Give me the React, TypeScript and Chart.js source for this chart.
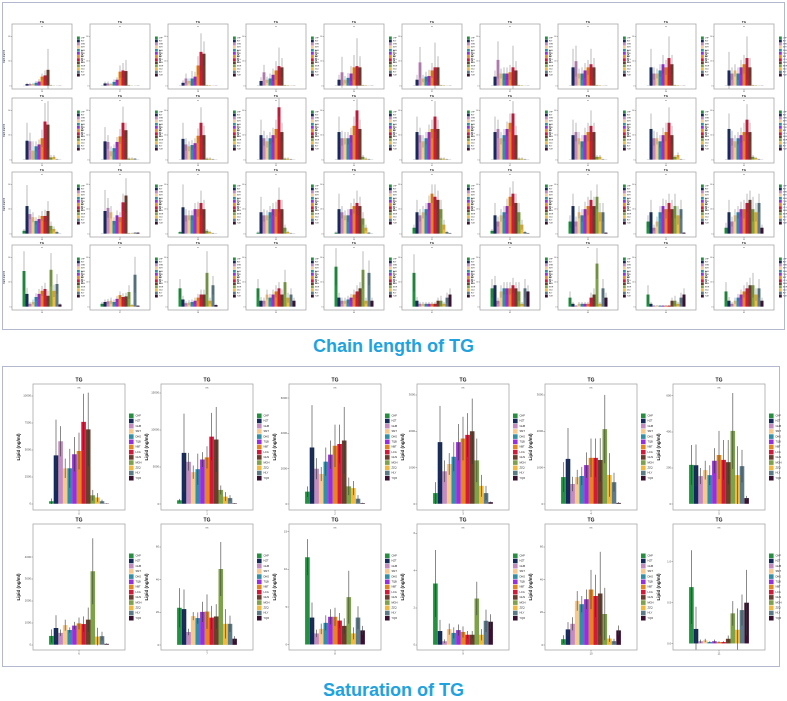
import React, { useEffect, useRef } from "react";
import { Chart, registerables } from "chart.js";
Chart.register(...registerables);

const FONT = "'Liberation Sans', Arial, sans-serif";

const GROUPS = ["CHP", "HZT", "GHB", "SMT", "DHG", "TQB", "NBT", "LCG", "GHS", "MGH", "ZZQ", "HLY", "YQR"];
const COLORS = ["#23903f", "#142a5e", "#c58bc0", "#f8c98a", "#2f8fa6", "#9a2de0", "#e8861e", "#d3193a", "#6a3d2c", "#7ea24a", "#f2b93b", "#5c7b89", "#3b0f32"];

// ---------- Chain length of TG (4 rows x 10 columns) ----------
const CHAIN_LABELS = Array.from({ length: 40 }, (_, i) => String(26 + i));
const CHAIN_TICKS = [0, 40, 80];

const CHAIN_VALUES: number[][] = [
  [0, 3, 3, 3, 5, 7, 15, 17, 26, 1, 0.5, 0.3, 0.2],
  [0.5, 4, 4, 3, 6.5, 10, 23, 25, 24, 1, 0.5, 0.5, 0.2],
  [0.5, 5, 12, 8, 12, 15, 33, 55, 52, 1, 1, 0.5, 0.2],
  [0.5, 8, 22, 10, 12, 18, 25, 32, 30, 1, 1, 0.5, 0.2],
  [0.5, 10, 22, 10, 13, 20, 30, 32, 30, 1, 1, 0.5, 0.2],
  [0.5, 10, 38, 12, 15, 16, 25, 30, 30, 1, 1, 0.5, 0.2],
  [0.5, 15, 42, 20, 20, 20, 22, 30, 25, 1, 1, 0.5, 0.2],
  [0.5, 30, 40, 20, 20, 25, 30, 35, 30, 1, 1, 0.5, 0.2],
  [0.5, 30, 20, 20, 25, 35, 30, 45, 35, 1, 1, 0.5, 0.2],
  [0.5, 25, 20, 25, 20, 30, 35, 45, 30, 1, 1, 0.5, 0.2],

  [0.5, 31, 30, 15, 22, 25, 35, 62, 57, 4, 5, 1, 0.3],
  [0.5, 30, 29, 14, 19, 29, 38, 60, 48, 2, 2, 2, 0.3],
  [0.5, 34, 25, 22, 24, 27, 39, 60, 40, 2, 2, 1, 0.3],
  [0.5, 40, 35, 30, 35, 40, 50, 85, 45, 2, 2, 1, 0.3],
  [0.5, 45, 35, 35, 35, 40, 55, 80, 50, 5, 2, 1, 0.3],
  [0.5, 45, 40, 30, 35, 45, 50, 70, 50, 2, 2, 1, 0.3],
  [0.5, 45, 50, 35, 40, 50, 60, 75, 40, 2, 2, 1, 0.3],
  [0.5, 40, 45, 35, 30, 40, 45, 55, 45, 5, 5, 1, 0.3],
  [0.5, 50, 35, 35, 30, 40, 45, 60, 40, 5, 8, 1, 0.3],
  [0.5, 50, 35, 30, 35, 40, 45, 65, 45, 5, 3, 1, 0.3],

  [5, 45, 32, 27, 21, 24, 29, 29, 37, 13, 8, 3, 0.5],
  [0.5, 37, 42, 35, 21, 30, 27, 51, 62, 1, 1, 2, 2],
  [3, 43, 30, 30, 30, 40, 40, 50, 40, 5, 3, 1, 0.5],
  [2, 35, 30, 30, 35, 40, 40, 55, 40, 10, 3, 1, 0.5],
  [2, 40, 35, 30, 30, 40, 45, 50, 45, 25, 10, 2, 0.5],
  [10, 35, 30, 35, 40, 50, 65, 60, 55, 40, 15, 3, 1],
  [5, 30, 20, 30, 35, 45, 60, 65, 50, 35, 15, 3, 1],
  [20, 45, 20, 35, 30, 40, 45, 55, 45, 60, 35, 35, 2],
  [20, 35, 10, 20, 35, 45, 40, 50, 40, 45, 30, 40, 2],
  [10, 35, 20, 30, 35, 40, 40, 50, 55, 40, 35, 50, 10],

  [58, 21, 5, 8, 16, 21, 26, 29, 18, 60, 26, 37, 4],
  [5, 8, 9, 10, 8, 13, 19, 16, 17, 24, 3, 52, 2],
  [30, 12, 6, 7, 8, 10, 15, 20, 20, 55, 10, 35, 3],
  [30, 10, 10, 20, 15, 20, 25, 30, 20, 40, 15, 20, 10],
  [65, 15, 10, 10, 12, 15, 20, 25, 30, 60, 10, 55, 10],
  [55, 10, 5, 5, 5, 5, 5, 5, 10, 10, 5, 15, 20],
  [30, 35, 10, 25, 30, 30, 30, 35, 30, 25, 5, 30, 25],
  [15, 5, 2, 5, 5, 5, 5, 15, 20, 70, 5, 30, 15],
  [20, 5, 2, 2, 2, 2, 2, 2, 10, 10, 5, 15, 20],
  [25, 10, 5, 10, 15, 20, 25, 30, 35, 35, 20, 30, 10],
];

const CHAIN_ERRORS: number[][] = [
  [0.5, 2, 2, 2, 3, 4, 5, 8, 34, 1, 0.5, 0.3, 0.2],
  [0.5, 3, 3, 2, 4, 4, 10, 12, 18, 1, 0.5, 0.3, 0.2],
  [0.5, 4, 8, 4, 12, 8, 15, 30, 20, 1, 0.5, 0.3, 0.2],
  [0.5, 6, 12, 5, 8, 10, 15, 30, 15, 1, 0.5, 0.3, 0.2],
  [0.5, 8, 25, 6, 8, 12, 20, 45, 18, 1, 0.5, 0.3, 0.2],
  [0.5, 8, 25, 6, 8, 10, 12, 40, 18, 1, 0.5, 0.3, 0.2],
  [0.5, 10, 30, 8, 10, 10, 12, 35, 15, 1, 0.5, 0.3, 0.2],
  [0.5, 30, 25, 8, 10, 12, 12, 25, 15, 1, 0.5, 0.3, 0.2],
  [0.5, 30, 10, 8, 10, 15, 12, 35, 15, 1, 0.5, 0.3, 0.2],
  [0.5, 30, 10, 10, 10, 12, 15, 35, 15, 1, 0.5, 0.3, 0.2],

  [0.5, 29, 14, 15, 8, 8, 14, 30, 38, 4, 3, 1, 0.3],
  [0.5, 23, 11, 8, 6, 8, 12, 26, 12, 2, 2, 1, 0.3],
  [0.5, 26, 10, 8, 8, 8, 12, 25, 15, 2, 2, 1, 0.3],
  [0.5, 25, 12, 10, 10, 12, 15, 15, 15, 2, 2, 1, 0.3],
  [0.5, 25, 12, 10, 10, 12, 15, 18, 15, 3, 2, 1, 0.3],
  [0.5, 25, 12, 10, 10, 12, 15, 25, 15, 2, 2, 1, 0.3],
  [0.5, 25, 15, 10, 10, 12, 15, 20, 15, 2, 2, 1, 0.3],
  [0.5, 25, 15, 10, 10, 12, 15, 25, 15, 3, 3, 1, 0.3],
  [0.5, 25, 12, 10, 10, 12, 15, 25, 15, 3, 4, 1, 0.3],
  [0.5, 25, 12, 10, 10, 12, 15, 25, 15, 3, 2, 1, 0.3],

  [3, 34, 8, 8, 6, 6, 8, 10, 16, 7, 4, 2, 0.5],
  [0.5, 34, 16, 10, 6, 8, 8, 14, 28, 1, 1, 1, 1],
  [2, 37, 10, 8, 8, 10, 12, 20, 15, 3, 2, 1, 0.5],
  [2, 25, 10, 8, 10, 10, 12, 20, 15, 5, 2, 1, 0.5],
  [2, 25, 10, 8, 10, 10, 12, 20, 15, 10, 5, 1, 0.5],
  [5, 20, 10, 10, 10, 12, 15, 20, 15, 15, 8, 2, 1],
  [3, 20, 8, 10, 10, 12, 15, 20, 15, 15, 8, 2, 1],
  [10, 20, 8, 10, 10, 12, 15, 15, 15, 20, 15, 15, 1],
  [10, 20, 5, 8, 10, 12, 15, 15, 15, 20, 15, 15, 1],
  [8, 20, 8, 10, 10, 12, 15, 15, 15, 20, 15, 15, 5],

  [32, 10, 3, 4, 6, 8, 8, 10, 8, 27, 10, 16, 2],
  [3, 4, 4, 5, 4, 5, 6, 6, 6, 11, 2, 29, 1],
  [15, 6, 3, 4, 4, 5, 6, 8, 8, 35, 5, 15, 2],
  [15, 6, 5, 8, 6, 8, 10, 10, 8, 20, 8, 10, 5],
  [30, 8, 5, 5, 6, 6, 8, 10, 10, 30, 5, 20, 5],
  [30, 6, 3, 3, 3, 3, 3, 3, 5, 8, 3, 8, 10],
  [15, 15, 5, 10, 10, 10, 10, 12, 10, 15, 3, 15, 10],
  [10, 3, 1, 3, 3, 3, 3, 8, 10, 25, 3, 15, 8],
  [15, 3, 1, 1, 1, 1, 1, 1, 5, 8, 3, 8, 10],
  [15, 6, 3, 5, 6, 8, 10, 10, 12, 20, 10, 15, 5],
];

// ---------- Saturation of TG (2 rows x 6 columns) ----------
const SAT_LABELS = ["0", "1", "2", "3", "4", "5", "6", "7", "8", "9", "10", "11"];

const SAT_VALUES: number[][] = [
  [250, 4500, 5800, 3300, 3300, 4600, 4900, 7600, 6900, 800, 600, 250, 50],
  [500, 6900, 5700, 4300, 4700, 6000, 6300, 9100, 8700, 1900, 1000, 800, 100],
  [700, 3200, 2000, 1700, 2400, 2800, 3300, 3400, 3600, 1000, 900, 300, 50],
  [300, 1700, 900, 1100, 1300, 1700, 1800, 1900, 2000, 1200, 500, 300, 50],
  [740, 1240, 550, 740, 770, 1070, 1270, 1270, 1210, 2060, 800, 600, 30],
  [217, 215, 155, 188, 160, 240, 272, 245, 232, 405, 160, 210, 33],
  [410, 770, 550, 900, 680, 880, 980, 950, 1150, 3350, 380, 400, 50],
  [22.8, 22, 8, 17.7, 16.5, 20.3, 20.5, 16.8, 17.5, 46.5, 13, 13, 3.9],
  [11.6, 3.6, 1.5, 2.1, 2.9, 3.7, 3.7, 3.2, 2.5, 6.3, 1.5, 3.6, 1.9],
  [3.3, 0.75, 0.2, 0.85, 0.65, 0.8, 0.7, 0.55, 0.55, 2.5, 0.55, 1.3, 1.25],
  [3.6, 9.6, 13, 27, 25, 28, 34, 30, 31.5, 19, 4, 2.4, 9],
  [0.69, 0.18, 0.03, 0.04, 0.02, 0.03, 0.02, 0.02, 0.06, 0.37, 0.17, 0.41, 0.5],
];

const SAT_ERRORS: number[][] = [
  [250, 3300, 1400, 900, 1800, 1600, 1700, 2600, 3400, 500, 400, 150, 20],
  [200, 5300, 1200, 900, 2100, 1000, 1500, 3200, 4400, 600, 600, 400, 30],
  [300, 2400, 600, 400, 800, 800, 1200, 1100, 1900, 500, 400, 200, 20],
  [300, 1000, 300, 300, 400, 500, 600, 600, 900, 600, 300, 200, 20],
  [410, 850, 200, 200, 250, 350, 530, 530, 600, 940, 600, 260, 20],
  [110, 115, 45, 52, 55, 70, 133, 110, 123, 210, 160, 90, 12],
  [300, 580, 150, 250, 120, 170, 270, 350, 550, 1500, 400, 200, 20],
  [12, 12, 2, 2.5, 3.5, 6.2, 10.5, 7.2, 7.5, 16.5, 9, 5, 1.6],
  [2.4, 2.0, 0.5, 0.7, 1.0, 1.0, 1.2, 1.0, 1.0, 3.5, 0.8, 1.5, 0.6],
  [1.8, 0.6, 0.1, 0.3, 0.3, 0.3, 0.3, 0.2, 0.2, 0.9, 0.3, 0.6, 0.4],
  [2.4, 4.4, 4, 6, 5, 6, 12, 13, 25.5, 16, 2, 1.5, 3],
  [0.45, 0.27, 0.02, 0.02, 0.01, 0.02, 0.01, 0.01, 0.04, 0.15, 0.26, 0.19, 0.4],
];

const SAT_MAX = [11100, 16200, 6800, 3300, 3300, 665, 5500, 74, 16, 6.5, 74, 1.46];
const SAT_MIN = [-560, -810, -340, -165, -165, -33, -230, -3, -0.7, -0.27, -3, -0.077];
const SAT_TICKS: number[][] = [
  [0, 2500, 5000, 7500, 10000],
  [0, 5000, 10000, 15000],
  [0, 2000, 4000, 6000],
  [0, 1000, 2000, 3000],
  [0, 1000, 2000, 3000],
  [0, 200, 400, 600],
  [0, 1000, 2000, 3000, 4000],
  [0, 20, 40, 60],
  [0, 5, 10, 15],
  [0, 2, 4, 6],
  [0, 20, 40, 60],
  [0, 0.5, 1.0],
];
const SAT_DECIMALS = [0, 0, 0, 0, 0, 0, 0, 0, 0, 0, 0, 1];

type Sizes = {
  title: number; tick: number; ytitle: number; legend: number; ns: number;
  box: number; rowH: number; errW: number; tickLen: number; yTitleOff: number;
  legendGap: number; titleOff: number; nsOff: number;
};

type BarProps = {
  left: number; top: number; width: number; height: number;
  padTop: number; padRight: number; yAxisW: number; xAxisH: number;
  values: number[]; errors: number[]; xLabel: string;
  yMin: number; yMax: number; ticks: number[]; decimals: number;
  s: Sizes;
};

function BarPanel(p: BarProps) {
  const ref = useRef<HTMLCanvasElement | null>(null);
  useEffect(() => {
    if (!ref.current) return;
    const s = p.s;
    const decor = {
      id: "decor",
      afterDatasetsDraw(chart: any) {
        const { ctx, chartArea: a } = chart;
        const y = chart.scales.y;
        ctx.save();
        ctx.beginPath();
        ctx.rect(a.left, a.top, a.right - a.left, a.bottom - a.top);
        ctx.clip();
        ctx.strokeStyle = "rgba(55,55,55,0.85)";
        ctx.lineWidth = s.errW;
        p.values.forEach((v, i) => {
          const el = chart.getDatasetMeta(i).data[0];
          if (!el) return;
          const e = p.errors[i];
          ctx.beginPath();
          ctx.moveTo(el.x, y.getPixelForValue(v - e));
          ctx.lineTo(el.x, y.getPixelForValue(v + e));
          ctx.stroke();
        });
        ctx.restore();
      },
      afterDraw(chart: any) {
        const { ctx, chartArea: a } = chart;
        ctx.save();
        ctx.strokeStyle = "#a8a8a8";
        ctx.lineWidth = 0.8;
        ctx.strokeRect(a.left, a.top, a.right - a.left, a.bottom - a.top);
        ctx.fillStyle = "#111";
        ctx.textAlign = "center";
        ctx.textBaseline = "middle";
        ctx.font = `bold ${s.title}px ${FONT}`;
        const cx = (a.left + a.right) / 2;
        ctx.fillText("TG", cx, a.top - s.titleOff);
        ctx.fillStyle = "#444";
        ctx.font = `${s.ns}px ${FONT}`;
        ctx.fillText("ns", cx, a.top + s.nsOff);
        ctx.save();
        ctx.translate(a.left - s.yTitleOff, (a.top + a.bottom) / 2);
        ctx.rotate(-Math.PI / 2);
        ctx.fillStyle = "#111";
        ctx.font = `bold ${s.ytitle}px ${FONT}`;
        ctx.fillText("Lipid (ng/ml)", 0, 0);
        ctx.restore();
        const n = GROUPS.length;
        const y0 = (a.top + a.bottom) / 2 - (n * s.rowH) / 2;
        const lx = a.right + s.legendGap;
        ctx.textAlign = "left";
        ctx.font = `${s.legend}px ${FONT}`;
        for (let i = 0; i < n; i++) {
          const yy = y0 + i * s.rowH;
          ctx.fillStyle = COLORS[i];
          ctx.fillRect(lx, yy + (s.rowH - s.box) / 2, s.box, s.box);
          ctx.fillStyle = "#222";
          ctx.fillText(GROUPS[i], lx + s.box + s.box * 0.4, yy + s.rowH / 2);
        }
        ctx.restore();
      },
    };

    const chart = new Chart(ref.current, {
      type: "bar",
      data: {
        labels: [p.xLabel],
        datasets: GROUPS.map((g, i) => ({
          label: g,
          data: [p.values[i]],
          backgroundColor: COLORS[i],
          borderWidth: 0,
          barPercentage: 1,
          categoryPercentage: 0.65,
        })),
      },
      options: {
        responsive: false,
        animation: false,
        devicePixelRatio: 2,
        layout: { padding: { top: p.padTop, right: p.padRight, left: 0, bottom: 0 } },
        plugins: { legend: { display: false }, title: { display: false }, tooltip: { enabled: false } },
        scales: {
          x: {
            afterFit: (sc: any) => { sc.height = p.xAxisH; },
            ticks: { font: { size: s.tick, family: FONT }, color: "#4d4d4d", padding: 0.5, maxRotation: 0, autoSkip: false },
            grid: { drawOnChartArea: false, offset: false, tickLength: s.tickLen, color: "#555", lineWidth: 0.5 },
            border: { display: false },
          },
          y: {
            min: p.yMin,
            max: p.yMax,
            afterBuildTicks: (sc: any) => { sc.ticks = p.ticks.map((v) => ({ value: v })); },
            afterFit: (sc: any) => { sc.width = p.yAxisW; },
            ticks: {
              font: { size: s.tick, family: FONT },
              color: "#4d4d4d",
              padding: 0.5,
              autoSkip: false,
              callback: (v: any) => Number(v).toFixed(p.decimals),
            },
            grid: { drawOnChartArea: false, tickLength: s.tickLen, color: "#555", lineWidth: 0.5 },
            border: { display: false },
          },
        },
      } as any,
      plugins: [decor as any],
    });
    return () => chart.destroy();
  }, []);
  return (
    <canvas
      ref={ref}
      width={p.width}
      height={p.height}
      style={{ position: "absolute", left: p.left, top: p.top, width: p.width, height: p.height }}
    />
  );
}

const SMALL: Sizes = {
  title: 3, tick: 2, ytitle: 2.2, legend: 1.8, ns: 1.8, box: 2.8, rowH: 3.1, errW: 0.4,
  tickLen: 1, yTitleOff: 8, legendGap: 5, titleOff: 2, nsOff: 2.5,
};
const BIG: Sizes = {
  title: 5, tick: 2.8, ytitle: 4.5, legend: 2.6, ns: 2.6, box: 4.6, rowH: 5.2, errW: 0.7,
  tickLen: 1.5, yTitleOff: 14, legendGap: 4, titleOff: 4, nsOff: 4,
};

const CHAIN_ROW_TOPS = [24, 98, 172, 245];
const SAT_ROW_TOPS = [384, 524];

export default function App() {
  const small = CHAIN_VALUES.map((vals, k) => {
    const r = Math.floor(k / 10);
    const c = k % 10;
    return (
      <BarPanel
        key={"c" + k}
        left={2 + 78 * c}
        top={CHAIN_ROW_TOPS[r] - 6}
        width={86}
        height={77}
        padTop={6}
        padRight={16}
        yAxisW={10}
        xAxisH={6}
        values={vals}
        errors={CHAIN_ERRORS[k]}
        xLabel={CHAIN_LABELS[k]}
        yMin={-5}
        yMax={100}
        ticks={CHAIN_TICKS}
        decimals={0}
        s={SMALL}
      />
    );
  });
  const big = SAT_VALUES.map((vals, k) => {
    const r = Math.floor(k / 6);
    const c = k % 6;
    return (
      <BarPanel
        key={"s" + k}
        left={5 + 128 * c}
        top={SAT_ROW_TOPS[r] - 16}
        width={148}
        height={152}
        padTop={16}
        padRight={28}
        yAxisW={28}
        xAxisH={10}
        values={vals}
        errors={SAT_ERRORS[k]}
        xLabel={SAT_LABELS[k]}
        yMin={SAT_MIN[k]}
        yMax={SAT_MAX[k]}
        ticks={SAT_TICKS[k]}
        decimals={SAT_DECIMALS[k]}
        s={BIG}
      />
    );
  });
  const heading = (text: string, top: number) => (
    <div
      style={{
        position: "absolute", left: 0, top, width: 787, textAlign: "center",
        fontFamily: FONT, fontWeight: "bold", fontSize: 18, color: "#1ea3e0", lineHeight: "24px",
      }}
    >
      {text}
    </div>
  );
  return (
    <div style={{ position: "absolute", left: 0, top: 0, width: 787, height: 701, background: "#fff", overflow: "hidden" }}>
      <div style={{ position: "absolute", left: 2, top: 2, width: 781, height: 326, border: "1px solid #b3b8cf" }} />
      <div style={{ position: "absolute", left: 2, top: 366, width: 776, height: 299, border: "1px solid #b3b8cf" }} />
      {small}
      {big}
      {heading("Chain length of TG", 334)}
      {heading("Saturation of TG", 678)}
    </div>
  );
}
